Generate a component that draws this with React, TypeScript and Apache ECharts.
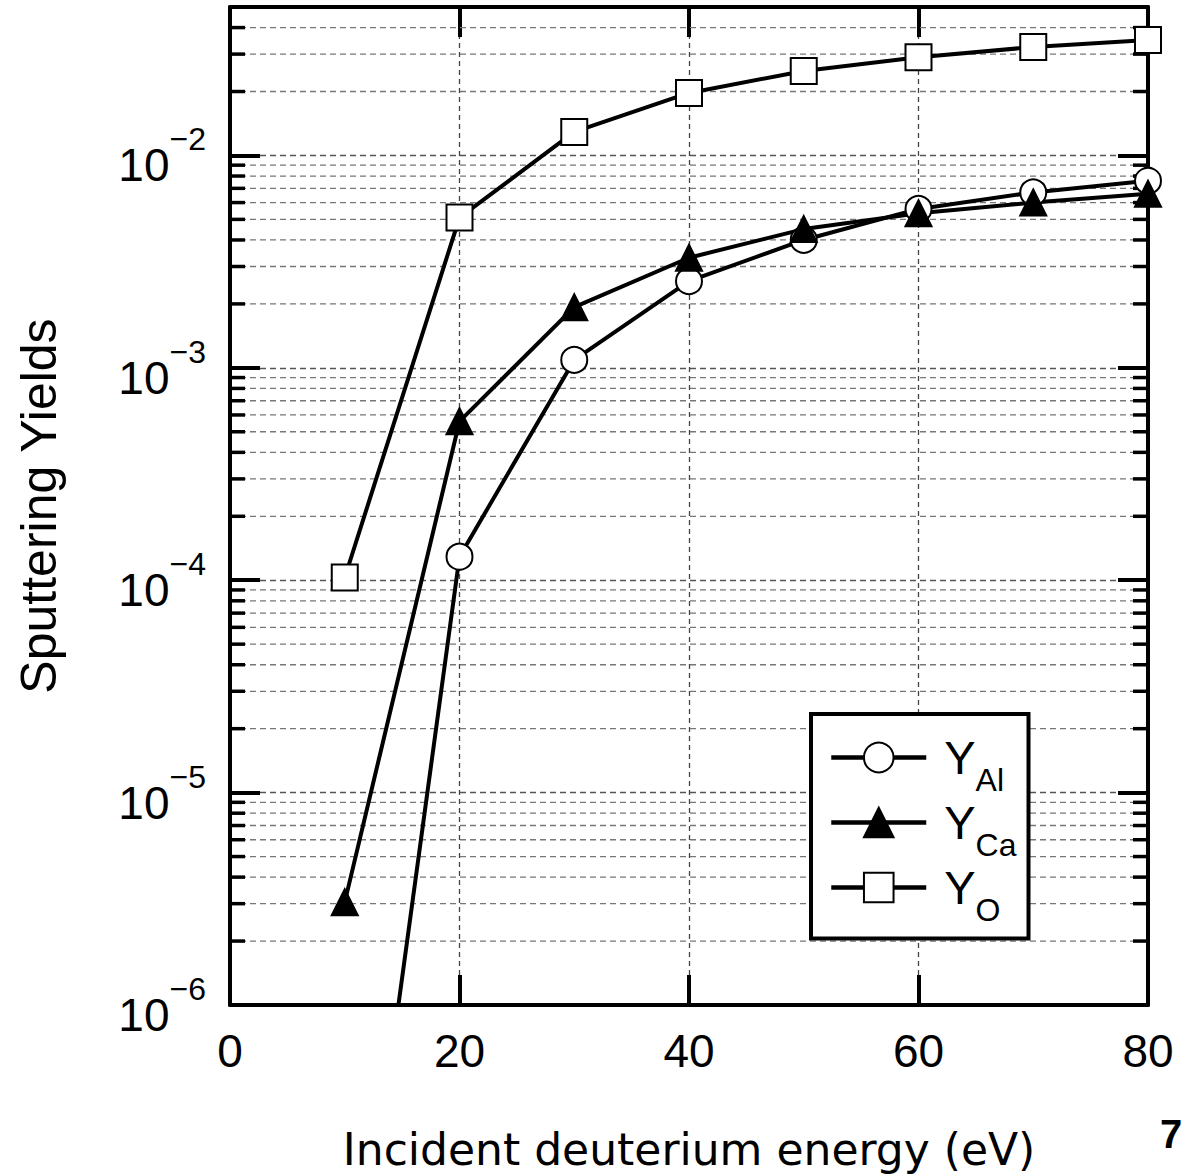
import React, { useEffect, useRef } from "react";
import * as echarts from "echarts";

const energies = [10, 20, 30, 40, 50, 60, 70, 80];
const yieldAl = [1.4e-8, 1.29e-4, 1.09e-3, 2.56e-3, 4.0e-3, 5.6e-3, 6.7e-3, 7.6e-3];
const yieldCa = [3.05e-6, 5.6e-4, 1.93e-3, 3.3e-3, 4.5e-3, 5.35e-3, 6.0e-3, 6.6e-3];
const yieldO = [1.03e-4, 5.1e-3, 1.29e-2, 1.97e-2, 2.5e-2, 2.9e-2, 3.24e-2, 3.5e-2];

const seriesNames = ["Al", "Ca", "O"];
const decades = [1e-6, 1e-5, 1e-4, 1e-3, 1e-2];
const minorMultipliers = [2, 3, 4, 5, 6, 7, 8, 9];
const yMin = 1e-6;
const yMax = 5e-2;
const xTitle = "Incident deuterium energy (eV)";
const yTitle = "Sputtering Yields";
const pageNumber = "7";

const FONT = "Liberation Sans";

export default function App() {
  const ref = useRef<HTMLDivElement>(null);
  useEffect(() => {
    if (!ref.current) return;
    const chart = echarts.init(ref.current, undefined, { renderer: "svg" });

    const minorValues: number[][] = [];
    decades.forEach((d) => {
      minorMultipliers.forEach((m) => {
        const v = d * m;
        if (v < yMax * 0.999) minorValues.push([0, v]);
      });
    });

    const pair = (ys: number[]) => energies.map((x, i) => [x, ys[i]]);

    const lineSeries = (name: string, ys: number[], symbol: string, fill: string) => ({
      type: "line",
      name,
      data: pair(ys),
      symbol,
      symbolSize: 26,
      clip: true,
      z: 3,
      lineStyle: { color: "#000", width: 4 },
      itemStyle: { color: fill, borderColor: "#000", borderWidth: 2 },
      emphasis: { disabled: true },
    });

    const option: any = {
      animation: false,
      backgroundColor: "#fff",
      grid: { left: 230, top: 7, width: 918, height: 998, containLabel: false },
      xAxis: [
        {
          type: "value",
          min: 0,
          max: 80,
          interval: 20,
          position: "bottom",
          name: xTitle,
          nameLocation: "middle",
          nameGap: 122,
          nameTextStyle: { fontFamily: "DejaVu Sans", fontSize: 44, color: "#000" },
          axisLine: { show: true, onZero: false, lineStyle: { color: "#000", width: 4 } },
          axisTick: { show: true, inside: true, length: 30, lineStyle: { color: "#000", width: 4 } },
          axisLabel: { show: true, fontFamily: FONT, fontSize: 46, color: "#000", margin: 23 },
          splitLine: { show: true, lineStyle: { color: "#444", width: 1.3, type: [5, 4] } },
        },
        {
          type: "value",
          min: 0,
          max: 80,
          interval: 20,
          position: "top",
          axisLine: { show: true, onZero: false, lineStyle: { color: "#000", width: 4 } },
          axisTick: { show: true, inside: true, length: 30, lineStyle: { color: "#000", width: 4 } },
          axisLabel: { show: false },
          splitLine: { show: false },
        },
      ],
      yAxis: [
        {
          type: "log",
          min: yMin,
          max: yMax,
          position: "left",
          name: yTitle,
          nameLocation: "middle",
          nameRotate: 90,
          nameGap: 166,
          nameTextStyle: { fontFamily: FONT, fontSize: 50, color: "#000" },
          axisLine: { show: true, onZero: false, lineStyle: { color: "#000", width: 4 } },
          axisTick: { show: true, inside: true, length: 30, lineStyle: { color: "#000", width: 4 } },
          axisLabel: {
            show: true,
            margin: 24,
            padding: [20, 0, 0, 0],
            formatter: (v: number) => {
              const l = Math.log10(v);
              const e = Math.round(l);
              if (Math.abs(l - e) > 1e-6) return "";
              return `{b|10}{e|\u2212${-e}}`;
            },
            rich: {
              b: { fontFamily: FONT, fontSize: 46, lineHeight: 84, color: "#000" },
              e: { fontFamily: FONT, fontSize: 32, lineHeight: 32, verticalAlign: "top", color: "#000" },
            },
          },
          splitLine: { show: true, lineStyle: { color: "#555", width: 1.3, type: [6, 4] } },
        },
        {
          type: "log",
          min: yMin,
          max: yMax,
          position: "right",
          axisLine: { show: true, onZero: false, lineStyle: { color: "#000", width: 4 } },
          axisTick: { show: true, inside: true, length: 30, lineStyle: { color: "#000", width: 4 } },
          axisLabel: { show: false },
          splitLine: { show: false },
        },
      ],
      legend: {
        orient: "vertical",
        left: 811,
        top: 714,
        data: seriesNames,
        selectedMode: false,
        backgroundColor: "#fff",
        borderColor: "#000",
        borderWidth: 4,
        borderRadius: 0,
        padding: [20, 12, 13, 18],
        itemGap: 3.5,
        itemWidth: 95,
        itemHeight: 37,
        itemStyle: { borderWidth: 2 },
        lineStyle: { width: 4.5 },
        formatter: (name: string) => `{y|Y}{s|${name}}`,
        textStyle: {
          color: "#000",
          rich: {
            y: { fontFamily: FONT, fontSize: 47, lineHeight: 76, padding: [0, 0, 0, 13], color: "#000" },
            s: { fontFamily: FONT, fontSize: 32, lineHeight: 32, verticalAlign: "bottom", color: "#000" },
          },
        },
      },
      graphic: [
        {
          type: "text",
          left: 1160,
          top: 1114,
          style: { text: pageNumber, font: `bold 40px '${FONT}'`, fill: "#000" },
        },
      ],
      series: [
        {
          type: "custom",
          silent: true,
          z: 1,
          clip: false,
          data: minorValues,
          encode: { x: 0, y: 1 },
          renderItem: (params: any, api: any) => {
            const cs = params.coordSys;
            const y = api.coord([0, api.value(1)])[1];
            return {
              type: "group",
              children: [
                {
                  type: "line",
                  shape: { x1: cs.x, y1: y, x2: cs.x + cs.width, y2: y },
                  style: { stroke: "#777", lineWidth: 1.3, lineDash: [6, 4] },
                },
                {
                  type: "line",
                  shape: { x1: cs.x, y1: y, x2: cs.x + 15, y2: y },
                  style: { stroke: "#000", lineWidth: 3.5 },
                },
                {
                  type: "line",
                  shape: { x1: cs.x + cs.width - 15, y1: y, x2: cs.x + cs.width, y2: y },
                  style: { stroke: "#000", lineWidth: 3.5 },
                },
              ],
            };
          },
        },
        lineSeries("Al", yieldAl, "circle", "#fff"),
        lineSeries("Ca", yieldCa, "triangle", "#000"),
        lineSeries("O", yieldO, "rect", "#fff"),
      ],
    };
    chart.setOption(option);
    return () => chart.dispose();
  }, []);
  return (
    <div
      ref={ref}
      style={{ position: "fixed", left: 0, top: 0, width: 1196, height: 1176, background: "#fff" }}
    />
  );
}
